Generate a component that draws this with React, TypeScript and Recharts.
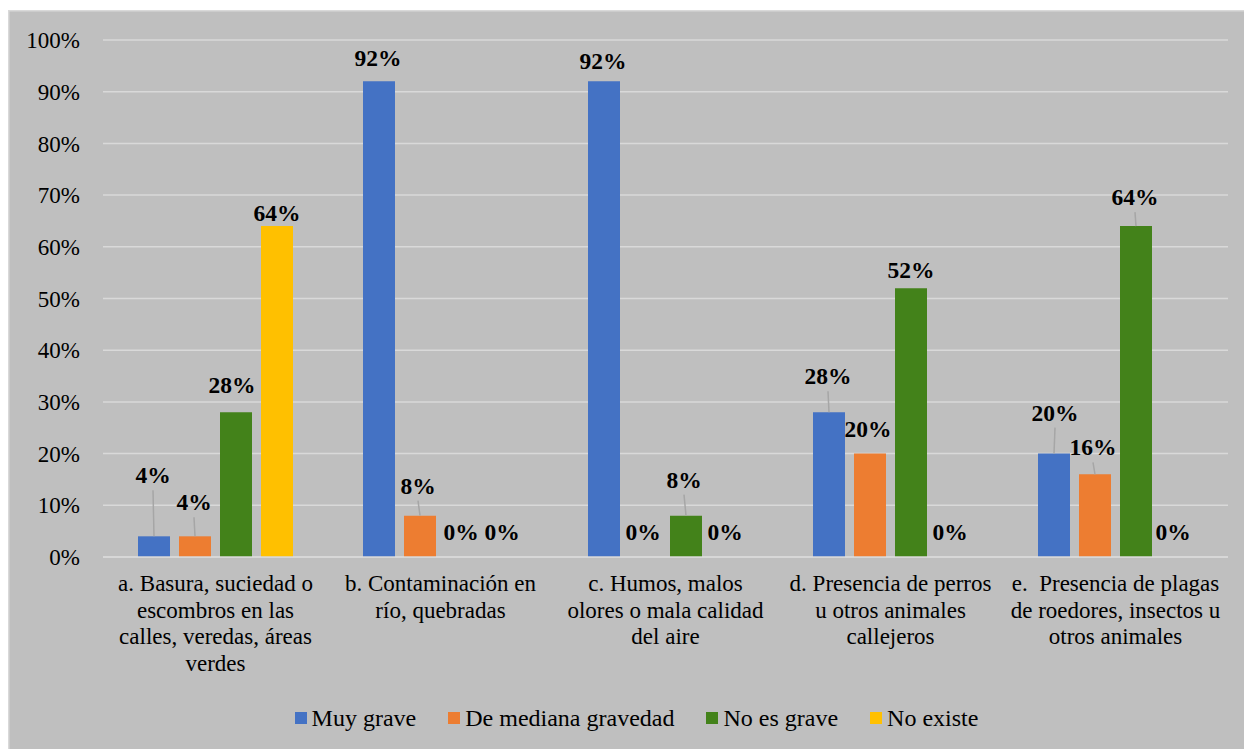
import React from 'react';
import { BarChart, Bar, XAxis, YAxis, CartesianGrid, LabelList, Legend } from 'recharts';

const FONT = '"Liberation Serif", "Times New Roman", serif';

const categories = [
  'a. Basura, suciedad o\nescombros en las\ncalles, veredas, áreas\nverdes',
  'b. Contaminación en\nrío, quebradas',
  'c. Humos, malos\nolores o mala calidad\ndel aire',
  'd. Presencia de perros\nu otros animales\ncallejeros',
  'e.  Presencia de plagas\nde roedores, insectos u\notros animales',
];
const muyGrave = [4, 92, 92, 28, 20];
const mediana = [4, 8, 0, 20, 16];
const noEsGrave = [28, 0, 8, 52, 64];
const noExiste = [64, 0, 0, 0, 0];
const seriesNames = ['Muy grave', 'De mediana gravedad', 'No es grave', 'No existe'];
const seriesKeys = ['s0', 's1', 's2', 's3'];
const seriesColors = ['#4472C4', '#ED7D31', '#43821A', '#FFC000'];
const yTicks = [0, 10, 20, 30, 40, 50, 60, 70, 80, 90, 100];

const data = categories.map((name, i) => ({
  name,
  s0: muyGrave[i],
  s1: mediana[i],
  s2: noEsGrave[i],
  s3: noExiste[i],
}));

// label placement adjustments (style, not data)
type Adj = { dx: number; dy: number; leader?: boolean };
const LABEL_ADJUST: Record<string, Adj[]> = {
  s0: [
    { dx: -1, dy: -61, leader: true },
    { dx: -1, dy: -23 },
    { dx: -1, dy: -20 },
    { dx: -1, dy: -36, leader: true },
    { dx: 1, dy: -41, leader: true },
  ],
  s1: [
    { dx: -1, dy: -34, leader: true },
    { dx: -2, dy: -30, leader: true },
    { dx: -2, dy: -25 },
    { dx: -2, dy: -25 },
    { dx: -2, dy: -27, leader: true },
  ],
  s2: [
    { dx: -4, dy: -27 },
    { dx: 0, dy: -25 },
    { dx: -2, dy: -36, leader: true },
    { dx: 0, dy: -18 },
    { dx: -1, dy: -29, leader: true },
  ],
  s3: [
    { dx: 0, dy: -13 },
    { dx: 0, dy: -25 },
    { dx: -2, dy: -25 },
    { dx: -2, dy: -25 },
    { dx: -4, dy: -25 },
  ],
};

function makeLabel(key: string) {
  return (props: any) => {
    const vb = props.viewBox || {};
    const x = Number(vb.x ?? props.x);
    const w = Number(vb.width ?? props.width);
    const yRaw = Number(vb.y ?? props.y);
    const hRaw = Number(vb.height ?? props.height);
    const by = hRaw < 0 ? yRaw + hRaw : yRaw;
    const index = props.index as number;
    const adj = LABEL_ADJUST[key][index] || { dx: 0, dy: -13 };
    const bx = x + w / 2;
    const cx = bx + adj.dx;
    const cy = by + adj.dy;
    return (
      <g>
        {adj.leader && (
          <line x1={bx} y1={by} x2={cx} y2={cy + 15} stroke="#A6A6A6" strokeWidth={1.5} />
        )}
        <text
          x={cx}
          y={cy}
          textAnchor="middle"
          dominantBaseline="central"
          style={{ fontFamily: FONT }}
          fontSize={23.5}
          fontWeight="bold"
          fill="#000"
        >
          {props.value}%
        </text>
      </g>
    );
  };
}

const CategoryTick = (props: any) => {
  const { x, y, payload } = props;
  const lines = String(payload.value).split('\n');
  return (
    <g transform={`translate(${x},${y})`}>
      {lines.map((l, i) => (
        <text
          key={i}
          x={0}
          y={26.5 + i * 26.5}
          textAnchor="middle"
          dominantBaseline="central"
          style={{ fontFamily: FONT, whiteSpace: 'pre' }}
          fontSize={23}
          fill="#000"
        >
          {l}
        </text>
      ))}
    </g>
  );
};

const renderLegend = () => (
  <div
    style={{
      display: 'flex',
      justifyContent: 'center',
      alignItems: 'center',
      height: 30,
      paddingLeft: 37,
      fontFamily: FONT,
      fontSize: 24,
      color: '#000',
      lineHeight: '30px',
    }}
  >
    {seriesNames.map((n, i) => (
      <div key={n} style={{ display: 'flex', alignItems: 'center', marginRight: i < 3 ? 32 : 0 }}>
        <span
          style={{
            width: 12,
            height: 12,
            background: seriesColors[i],
            marginRight: 5,
            display: 'inline-block',
          }}
        />
        <span>{n}</span>
      </div>
    ))}
  </div>
);

export default function App() {
  return (
    <div
      style={{
        position: 'fixed',
        left: 8,
        top: 10,
        width: 1250,
        height: 750,
        background: '#BFBFBF',
        boxShadow: 'inset 0 0 0 1.5px #D9D9D9',
      }}
    >
      <BarChart
        width={1236}
        height={739}
        data={data}
        margin={{ top: 30, right: 16, left: 0, bottom: 16 }}
        barSize={32}
        barGap={9}
        barCategoryGap={35}
      >
        <CartesianGrid vertical={false} stroke="#D9D9D9" strokeWidth={1.5} />
        <XAxis
          dataKey="name"
          interval={0}
          height={146}
          tickLine={false}
          tickSize={0}
          tickMargin={0}
          axisLine={{ stroke: '#D9D9D9', strokeWidth: 1.5 }}
          tick={<CategoryTick />}
        />
        <YAxis
          width={95}
          domain={[0, 100]}
          ticks={yTicks}
          tickFormatter={(v: number) => `${v}%`}
          axisLine={false}
          tickLine={false}
          tickSize={0}
          tickMargin={23}
          tick={{ fontFamily: FONT, fontSize: 23, fill: '#000' }}
        />
        <Legend verticalAlign="bottom" content={renderLegend} />
        {seriesKeys.map((k, i) => (
          <Bar
            key={k}
            dataKey={k}
            name={seriesNames[i]}
            fill={seriesColors[i]}
            minPointSize={0.01}
            isAnimationActive={false}
          >
            <LabelList dataKey={k} content={makeLabel(k)} />
          </Bar>
        ))}
      </BarChart>
    </div>
  );
}
